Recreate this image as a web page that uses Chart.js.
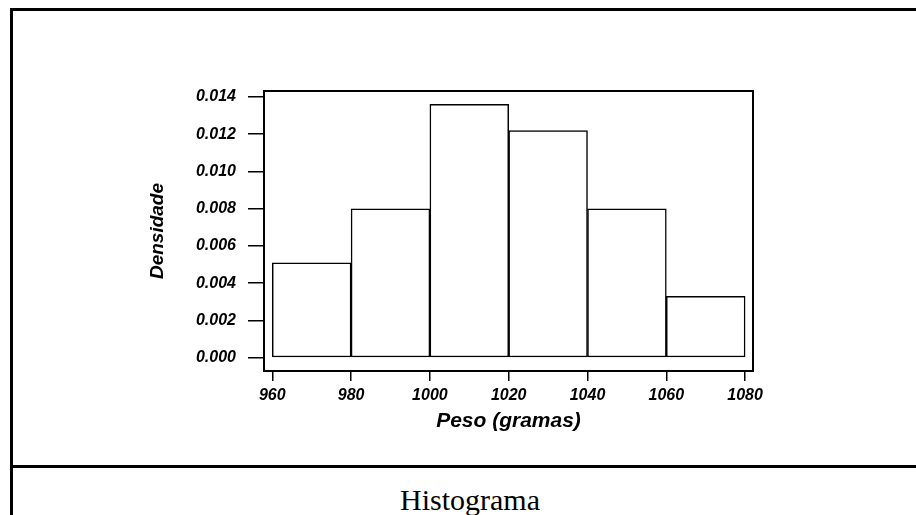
<!DOCTYPE html>
<html>
<head>
<meta charset="utf-8">
<script src="https://cdn.jsdelivr.net/npm/chart.js@4"></script>
<style>
  html, body { margin: 0; padding: 0; background: #fff; }
  body { width: 916px; height: 515px; position: relative; overflow: hidden; }
  #frame { position: absolute; left: 10px; top: 8px; width: 1000px; height: 600px;
           border-top: 3px solid #000; border-left: 3px solid #000; }
  #rule { position: absolute; left: 10px; top: 465px; width: 1000px; height: 3px; background: #000; }
  #caption { position: absolute; left: 0; top: 485px; width: 940px; text-align: center;
             font: 30px/30px "Liberation Serif", "Times New Roman", serif; color: #000; }
  #myChart { position: absolute; left: 0; top: 0; }
</style>
</head>
<body>
<div id="frame"></div>
<div id="rule"></div>
<div id="caption">Histograma</div>
<canvas id="myChart" width="916" height="465"></canvas>
<script>
// Klassen (Mitte) und Dichte pro Klasse
const klassenMitte = [970, 990, 1010, 1030, 1050, 1070];
const dichte = [0.0051, 0.0080, 0.0136, 0.0122, 0.0080, 0.0033];
const xTicks = [960, 980, 1000, 1020, 1040, 1060, 1080];
const yTicks = [0.000, 0.002, 0.004, 0.006, 0.008, 0.010, 0.012, 0.014];

const tickFont = { family: '"Liberation Sans", Arial, sans-serif', size: 16, style: 'italic', weight: 'bold' };

// Rahmen um die Plotfläche
const boxPlugin = {
    id: 'box',
    afterDraw(chart) {
        const a = chart.chartArea;
        const ctx = chart.ctx;
        ctx.save();
        ctx.strokeStyle = '#000';
        ctx.lineWidth = 2;
        ctx.strokeRect(a.left, a.top, a.right - a.left, a.bottom - a.top);
        ctx.restore();
    }
};

const ctx = document.getElementById('myChart').getContext('2d');
const myChart = new Chart(ctx, {
    type: 'bar',
    data: {
        datasets: [{
            label: 'Densidade',
            data: klassenMitte.map((x, i) => ({ x: x, y: dichte[i] })),
            backgroundColor: '#fff',
            borderColor: '#000',
            borderWidth: 1.5,
            borderSkipped: false,
            barPercentage: 1,
            categoryPercentage: 1
        }]
    },
    options: {
        responsive: false,
        animation: false,
        layout: { padding: { left: 0, top: 91, right: 163, bottom: 0 } },
        plugins: { legend: { display: false }, tooltip: { enabled: false } },
        scales: {
            x: {
                type: 'linear',
                offset: false,
                min: 957.9,
                max: 1082,
                afterFit(scale) { scale.height = 94; },
                afterBuildTicks(scale) { scale.ticks = xTicks.map(v => ({ value: v })); },
                grid: { offset: false, drawOnChartArea: false, drawTicks: true, tickLength: 10, color: '#000', lineWidth: 1.5 },
                border: { display: true, color: '#000', width: 2 },
                ticks: { color: '#000', font: tickFont, padding: 5, maxRotation: 0, callback: v => String(v) },
                title: {
                    display: true,
                    text: 'Peso (gramas)',
                    color: '#000',
                    font: { family: '"Liberation Sans", Arial, sans-serif', size: 21, style: 'italic', weight: 'bold' },
                    padding: { top: 0, bottom: 31 }
                }
            },
            y: {
                min: -0.000713,
                max: 0.01432,
                afterFit(scale) { scale.width = 264; },
                afterBuildTicks(scale) { scale.ticks = yTicks.map(v => ({ value: v })); },
                grid: { drawOnChartArea: false, drawTicks: true, tickLength: 16, color: '#000', lineWidth: 1.5 },
                border: { display: true, color: '#000', width: 2 },
                ticks: { color: '#000', font: tickFont, padding: 12, callback: v => v.toFixed(3) },
                title: {
                    display: true,
                    text: 'Densidade',
                    color: '#000',
                    font: { family: '"Liberation Sans", Arial, sans-serif', size: 19, style: 'italic', weight: 'bold' },
                    padding: { top: 146, bottom: 0 }
                }
            }
        }
    },
    plugins: [boxPlugin]
});
</script>
</body>
</html>
